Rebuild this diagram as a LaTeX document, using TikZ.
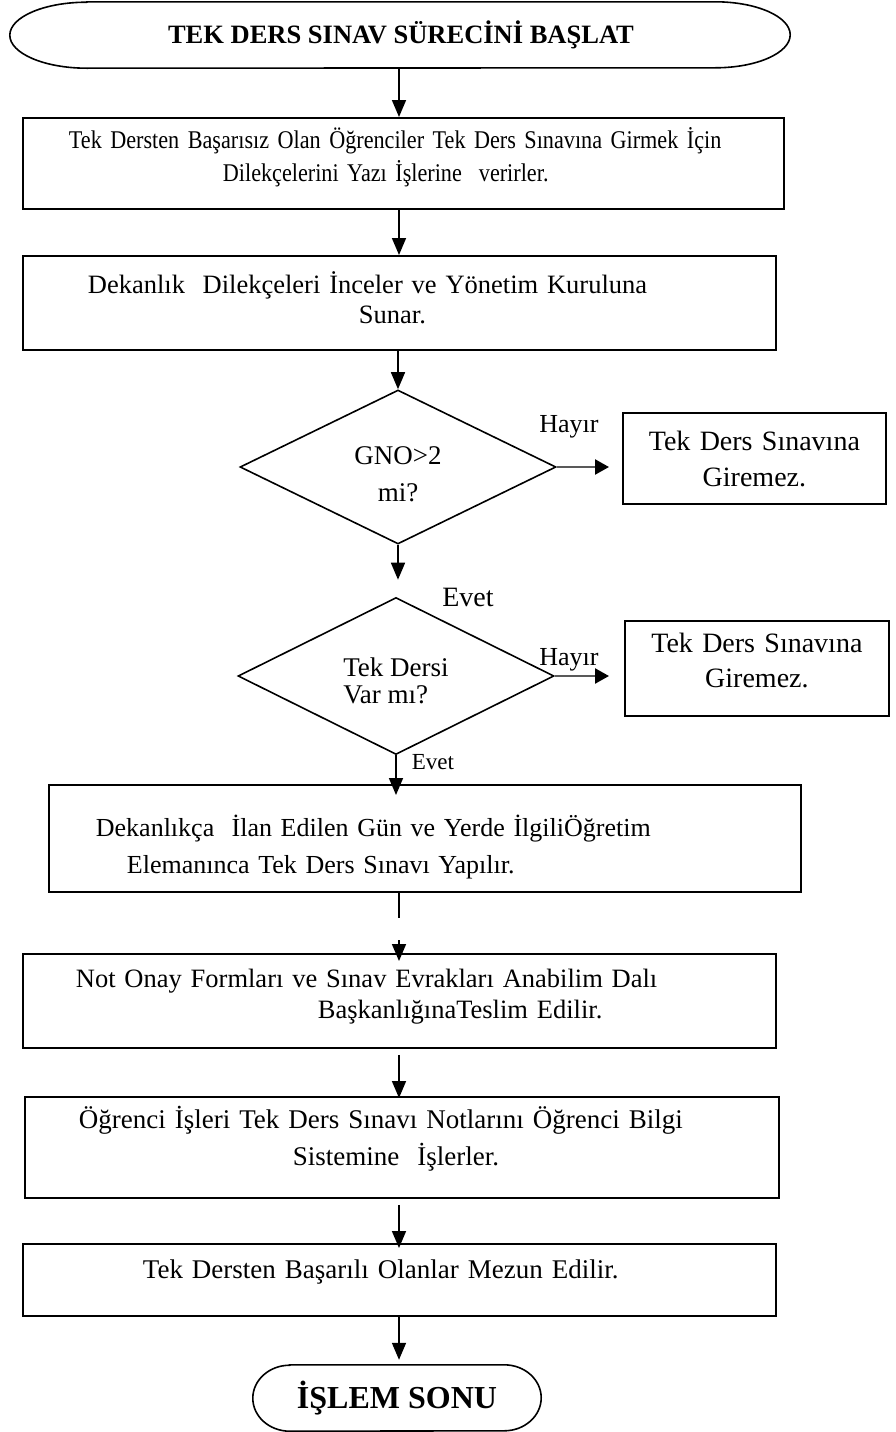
\documentclass[tikz,border=0pt]{standalone}
\usepackage{fontspec}
\setmainfont{Liberation Serif}
\newfontfamily\narrowserif[FakeStretch=0.87]{Liberation Serif}
\usetikzlibrary{shapes.geometric,arrows.meta,calc}

% struts that fix the top of the first line and the bottom of the last line
\newcommand{\hstrut}[1]{\rule{0pt}{#1}}
\newcommand{\dstrut}[1]{\rule[-#1]{0pt}{#1}}

\tikzset{
  flowbox/.style={draw, line width=1.8pt, rectangle, inner sep=0pt, anchor=north west, align=left},
  sidebox/.style={draw, line width=1.8pt, rectangle, inner sep=0pt, anchor=north west, align=center},
  decision/.style={draw, line width=1.6pt, diamond, aspect=2, inner sep=0pt},
  terminal/.style={rectangle, inner sep=0pt, font=\bfseries},
  termline/.style={line width=1.6pt},
  flowarrow/.style={line width=1.6pt, -{Triangle[length=17pt,width=14pt]}},
  flowline/.style={line width=1.6pt},
  sidearrow/.style={line width=2.4pt, black!65, -{Triangle[length=14pt,width=15pt,black]}},
  lbl/.style={inner sep=0pt},
}

\begin{document}
\begin{tikzpicture}[x=1pt,y=-1pt]
\useasboundingbox (0,0) rectangle (895,1432);

\coordinate (spine) at (399,0);

% start terminal
\node[terminal, minimum width=628pt, minimum height=66pt, font=\bfseries\fontsize{26.5pt}{30pt}\selectfont]
  (start) at (401,35) {TEK DERS SINAV SÜRECİNİ BAŞLAT};
\draw[termline] (start.north west) -- (start.north east)
  arc[start angle=90, end angle=-90, x radius=75pt, y radius=33pt]
  -- (start.south west)
  arc[start angle=270, end angle=90, x radius=77pt, y radius=33pt] -- cycle;

% process boxes
\node[flowbox, minimum width=761pt, minimum height=91pt, text width=761pt,
      font=\narrowserif\fontsize{25.5pt}{33pt}\selectfont] (b1) at (22,117)
  {\hspace*{46pt}\hstrut{26pt}Tek Dersten Başarısız Olan Öğrenciler Tek Ders Sınavına Girmek İçin\\
   \hspace*{200pt}Dilekçelerini Yazı İşlerine\ \ verirler.\dstrut{22pt}};

\node[flowbox, minimum width=753pt, minimum height=94pt, text width=753pt,
      font=\fontsize{26.5pt}{30pt}\selectfont] (b2) at (22,255)
  {\hspace*{65pt}\hstrut{30pt}Dekanlık\ \ Dilekçeleri İnceler ve Yönetim Kuruluna\\
   \hspace*{336pt}Sunar.\dstrut{18pt}};

% decisions
\node[decision, minimum width=316pt, minimum height=154pt, align=center,
      font=\fontsize{27pt}{37pt}\selectfont] (d1) at (398,467)
  {\hstrut{45pt}GNO>2\\mi?\dstrut{14pt}};

\node[sidebox, minimum width=263pt, minimum height=91pt, text width=263pt,
      font=\fontsize{28pt}{36pt}\selectfont] (s1) at (622,412)
  {\hstrut{34pt}Tek Ders Sınavına\\Giremez.\dstrut{13pt}};

\node[decision, minimum width=316pt, minimum height=157pt, align=left,
      font=\fontsize{27pt}{27pt}\selectfont] (d2) at (396,676)
  {\hstrut{42pt}Tek Dersi\\Var mı?\dstrut{15pt}};

\node[sidebox, minimum width=264pt, minimum height=95pt, text width=264pt,
      font=\fontsize{28pt}{35pt}\selectfont] (s2) at (624,620)
  {\hstrut{26pt}Tek Ders Sınavına\\Giremez.\dstrut{22pt}};

\node[flowbox, minimum width=752pt, minimum height=107pt, text width=752pt,
      font=\fontsize{26pt}{37pt}\selectfont] (b4) at (48,784)
  {\hspace*{47pt}\hstrut{45pt}\makebox[578pt][s]{Dekanlıkça\ \ İlan Edilen Gün ve Yerde İlgiliÖğretim}\\
   \hspace*{78pt}Elemanınca Tek Ders Sınavı Yapılır.\dstrut{11pt}};

\node[flowbox, minimum width=753pt, minimum height=94pt, text width=753pt,
      font=\fontsize{26.5pt}{31pt}\selectfont] (b5) at (22,953)
  {\hspace*{53pt}\hstrut{26pt}Not Onay Formları ve Sınav Evrakları Anabilim Dalı\\
   \hspace*{295pt}BaşkanlığınaTeslim Edilir.\dstrut{21pt}};

\node[flowbox, minimum width=754pt, minimum height=101pt, text width=754pt,
      font=\fontsize{27pt}{37pt}\selectfont] (b6) at (24,1096)
  {\hspace*{54pt}\hstrut{24pt}Öğrenci İşleri Tek Ders Sınavı Notlarını Öğrenci Bilgi\\
   \hspace*{268pt}Sistemine\ \ İşlerler.\dstrut{24pt}};

\node[flowbox, minimum width=753pt, minimum height=72pt, text width=753pt,
      font=\fontsize{27pt}{31pt}\selectfont] (b7) at (22,1243)
  {\hspace*{120pt}\hstrut{24pt}Tek Dersten Başarılı Olanlar Mezun Edilir.\dstrut{26pt}};

% end terminal
\node[terminal, minimum width=214pt, minimum height=66pt, font=\bfseries\fontsize{32pt}{36pt}\selectfont]
  (end) at (397,1398) {İŞLEM SONU};
\draw[termline] (end.north west) -- (end.north east)
  arc[start angle=90, end angle=-90, x radius=37pt, y radius=33pt]
  -- (end.south west)
  arc[start angle=270, end angle=90, x radius=37pt, y radius=33pt] -- cycle;

% branch labels
\node[lbl, font=\fontsize{26pt}{30pt}\selectfont] (no1) at (569,427) {Hayır};
\node[lbl, font=\fontsize{26pt}{30pt}\selectfont] (no2) at (569,660) {Hayır};
\node[lbl, font=\fontsize{28pt}{32pt}\selectfont] (yes1) at (468,597) {Evet};
\node[lbl, font=\fontsize{23pt}{28pt}\selectfont] (yes2) at (433,762) {Evet};

% broken connector between the exam box and the records box
\coordinate (gapTop) at (399,918);
\coordinate (gapMid) at (399,940);

% main flow
\draw[flowarrow] (start.south -| spine) -- (b1.north -| spine);
\draw[flowarrow] (b1.south -| spine) -- (b2.north -| spine);
\draw[flowarrow] (b2.south -| d1.north) -- (d1.north);
\draw[flowarrow, shorten >=17pt] (d1.south) -- (d1.south |- d2.north);
\draw[flowarrow] (d2.south) -- ($(b4.north -| d2.south)+(0,11)$);
\draw[flowline] (b4.south -| spine) -- (gapTop);
\draw[flowarrow] (gapMid) -- ($(b5.north -| spine)+(0,8)$);
\draw[flowarrow, shorten <=6pt] (b5.south -| spine) -- ($(b6.north -| spine)+(0,2)$);
\draw[flowarrow, shorten <=6pt] (b6.south -| spine) -- ($(b7.north -| spine)+(0,5)$);
\draw[flowarrow, shorten >=5pt] (b7.south -| spine) -- (end.north -| spine);

% rejection branches
\draw[sidearrow, shorten >=13pt] (d1.east) -- (d1.east -| s1.west);
\draw[sidearrow, shorten >=15pt] (d2.east) -- (d2.east -| s2.west);
\end{tikzpicture}
\end{document}
